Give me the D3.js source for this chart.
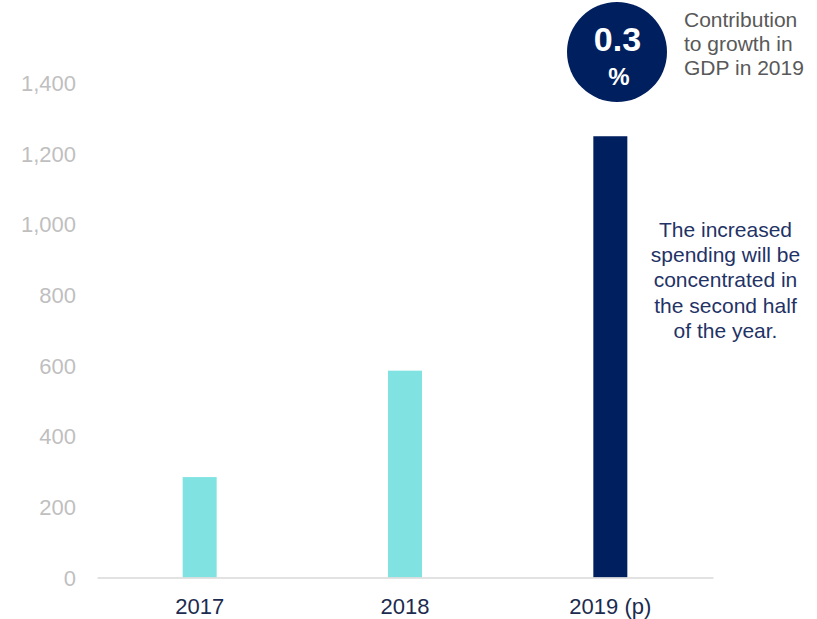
<!DOCTYPE html>
<html>
<head>
<meta charset="utf-8">
<script src="https://cdn.jsdelivr.net/npm/d3@7"></script>
<style>
  html, body { margin: 0; padding: 0; background: #fff; }
  svg { display: block; font-family: "Liberation Sans", Arial, sans-serif; }
</style>
</head>
<body>
<svg id="chart" width="817" height="619"></svg>
<script>
// Spending by year (2019 projected)
const categories = ["2017", "2018", "2019 (p)"];
const values = [284, 585, 1248];
const barColors = ["#80e3e2", "#80e3e2", "#001f5f"];
const yTicks = [0, 200, 400, 600, 800, 1000, 1200, 1400];

const badgeValue = "0.3";
const badgeUnit = "%";
const badgeNote = ["Contribution", "to growth in", "GDP in 2019"];
const annotation = ["The increased", "spending will be", "concentrated in", "the second half", "of the year."];

const svg = d3.select("#chart");
const navy = "#001f5f";
const font = "'Liberation Sans', Arial, sans-serif";

const x = d3.scaleBand().domain(categories).range([97, 713]).paddingInner(0).paddingOuter(0);
const y = d3.scaleLinear().domain([0, 1400]).range([577.5, 82.5]);
const barW = 34;

// y tick labels (no axis line)
const yAxis = d3.axisLeft(y).tickValues(yTicks).tickFormat(d3.format(",")).tickSize(0).tickPadding(0);
const gy = svg.append("g").attr("transform", "translate(76,0)").call(yAxis);
gy.select(".domain").remove();
gy.selectAll("text")
  .attr("fill", "#bfbfbf")
  .attr("font-size", 22)
  .attr("font-family", font)
  .attr("dy", "0.36em");

// bars
svg.append("g").selectAll("rect")
  .data(categories)
  .join("rect")
  .attr("x", d => x(d) + x.bandwidth() / 2 - barW / 2)
  .attr("width", barW)
  .attr("y", (d, i) => y(values[i]))
  .attr("height", (d, i) => y(0) - y(values[i]))
  .attr("fill", (d, i) => barColors[i]);

// x axis
const xAxis = d3.axisBottom(x).tickSize(0).tickPadding(0);
const gx = svg.append("g").attr("transform", `translate(0,${y(0)})`).call(xAxis);
gx.select(".domain").attr("stroke", "#d9d9d9").attr("stroke-width", 1.5);
gx.selectAll("text")
  .attr("fill", "#1c2b4f")
  .attr("font-size", 22)
  .attr("font-family", font)
  .attr("dy", 0)
  .attr("y", 36.5);

// badge
const badge = svg.append("g");
badge.append("circle").attr("cx", 617).attr("cy", 52).attr("r", 50).attr("fill", navy);
badge.append("text").attr("x", 617.5).attr("y", 51).attr("text-anchor", "middle")
  .attr("fill", "#fff").attr("font-weight", "bold").attr("font-size", 34).attr("font-family", font).text(badgeValue);
badge.append("text").attr("x", 619).attr("y", 85).attr("text-anchor", "middle")
  .attr("fill", "#fff").attr("font-weight", "bold").attr("font-size", 24).attr("font-family", font).text(badgeUnit);

svg.append("g").selectAll("text")
  .data(badgeNote)
  .join("text")
  .attr("x", 684)
  .attr("y", (d, i) => 26.5 + i * 24.3)
  .attr("fill", "#595959")
  .attr("font-size", 21)
  .attr("font-family", font)
  .text(d => d);

// annotation
svg.append("g").selectAll("text")
  .data(annotation)
  .join("text")
  .attr("x", 725.5)
  .attr("y", (d, i) => 236.5 + i * 25.4)
  .attr("text-anchor", "middle")
  .attr("fill", "#1f3366")
  .attr("font-size", 21)
  .attr("font-family", font)
  .text(d => d);
</script>
</body>
</html>
